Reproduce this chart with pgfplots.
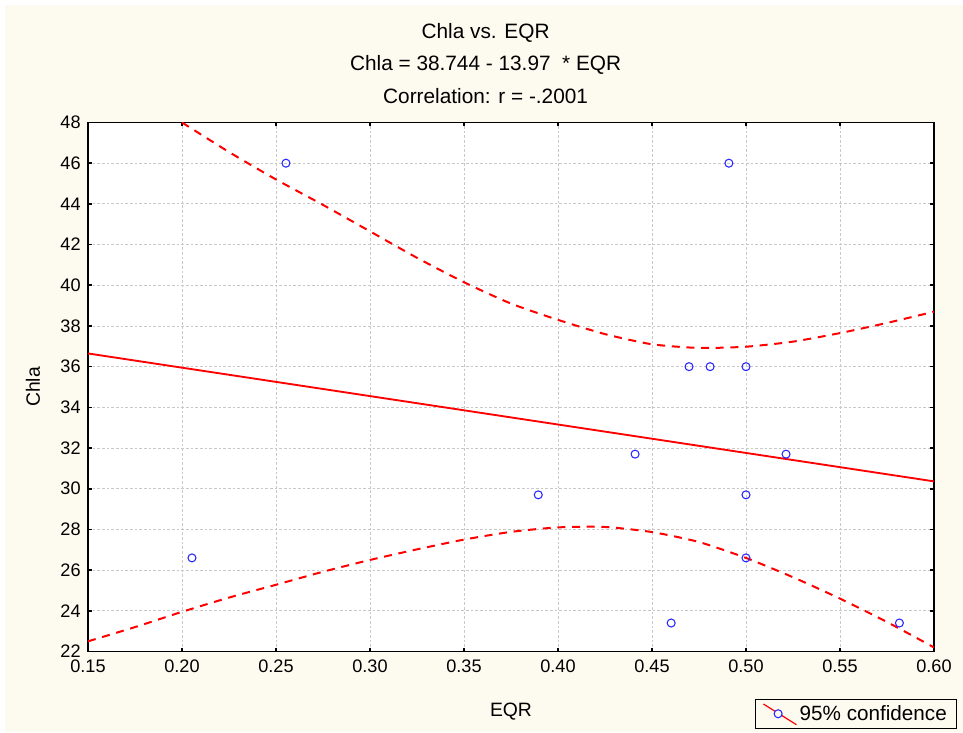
\documentclass[border=0pt]{standalone}
\usepackage{pgfplots}
\pgfplotsset{compat=1.18}
\usepackage{fontspec}
\setmainfont{Liberation Sans}
\definecolor{cream}{RGB}{253,250,240}
\definecolor{gridgray}{RGB}{200,200,200}
\definecolor{ptblue}{RGB}{40,40,255}
\definecolor{lnred}{RGB}{255,0,0}

\pgfplotstableread{
x y
0.2053 26.6
0.2553 46.0
0.3895 29.7
0.4410 31.7
0.4602 23.4
0.4697 36.0
0.4809 36.0
0.4909 46.0
0.5000 36.0
0.5000 29.7
0.5000 26.6
0.5213 31.7
0.5816 23.4
}\ptstable

\pgfplotstableread{
x y
0.200 48.0
0.225 46.55
0.250 45.2
0.275 43.95
0.300 42.65
0.325 41.35
0.350 40.15
0.375 39.1
0.400 38.3
0.425 37.6
0.450 37.1
0.475 36.92
0.500 36.98
0.525 37.23
0.550 37.65
0.575 38.15
0.600 38.7
}\upperband

\pgfplotstableread{
x y
0.150 22.5
0.175 23.2
0.200 23.95
0.225 24.65
0.250 25.28
0.275 25.92
0.300 26.5
0.325 27.02
0.350 27.5
0.375 27.88
0.400 28.1
0.425 28.12
0.450 27.87
0.475 27.38
0.500 26.6
0.525 25.65
0.550 24.6
0.575 23.45
0.600 22.2
}\lowerband

\pgfplotstableread{
x y
0.15 36.6486
0.60 30.362
}\fitline

\begin{document}
\begin{tikzpicture}
\fill[white] (-66pt,-60.375pt) rectangle (656.25pt,488.625pt);
\fill[cream] (-62.25pt,-60.375pt) rectangle (656.25pt,484.875pt);
\useasboundingbox (-66pt,-60.375pt) rectangle (656.25pt,488.625pt);
\begin{axis}[
  at={(0,0)}, anchor=south west,
  scale only axis,
  width=634.5pt, height=396.75pt,
  xmin=0.15, xmax=0.60, ymin=22, ymax=48,
  xtick={0.15,0.20,...,0.601},
  ytick={22,24,...,48},
  axis background/.style={fill=white},
  axis line style={black, line width=1.3pt},
  tick align=inside,
  tick pos=both,
  major tick length=3pt,
  every tick/.style={black, line width=1.2pt},
  grid=major,
  major grid style={gridgray, line width=0.6pt, dash pattern=on 2pt off 1.5pt},
  tick label style={font=\fontsize{13.6}{15}\selectfont},
  xticklabel style={/pgf/number format/fixed, /pgf/number format/fixed zerofill, /pgf/number format/precision=2, /pgf/number format/assume math mode=true, yshift=-3pt},
  yticklabel style={/pgf/number format/assume math mode=true, xshift=-2pt},
  xlabel={EQR}, ylabel={Chla},
  label style={font=\fontsize{14.5}{16}\selectfont},
  xlabel style={at={(axis description cs:0.5,-0.114)}, anchor=center},
  ylabel style={at={(axis description cs:-0.065,0.5)}, anchor=center},
  clip mode=individual,
  legend style={at={(axis description cs:0.7884,-0.0898)}, anchor=north west,
    fill=cream, draw=black, line width=0.8pt, font=\fontsize{15.5}{17}\selectfont,
    inner xsep=5.5pt, inner ysep=2.5pt},
  legend cell align=left,
]
\addplot[lnred, line width=1.4pt, forget plot] table[x=x,y=y] {\fitline};
\addplot[lnred, line width=1.5pt, dash pattern=on 6pt off 5pt, smooth, tension=0.4, forget plot] table[x=x,y=y] {\upperband};
\addplot[lnred, line width=1.5pt, dash pattern=on 6pt off 5pt, smooth, tension=0.4, forget plot] table[x=x,y=y] {\lowerband};
\addplot[only marks, mark=o, mark size=3pt, mark options={ptblue, line width=0.8pt}, forget plot] table[x=x,y=y] {\ptstable};
\addlegendimage{legend image code/.code={
  \draw[lnred, line width=0.9pt] (0pt,7.5pt) -- (24.75pt,-8pt);
  \draw[ptblue, line width=0.8pt, fill=cream] (11pt,0.2pt) circle (3pt);
}}
\addlegendentry{95\% confidence}
\node[font=\fontsize{15.6}{17}\selectfont] at (rel axis cs:0.470,1.169) {Chla vs. EQR};
\node[font=\fontsize{15.6}{17}\selectfont] at (rel axis cs:0.470,1.1087) {Chla = 38.744 - 13.97\ \ * EQR};
\node[font=\fontsize{15.6}{17}\selectfont] at (rel axis cs:0.470,1.050) {Correlation: r = -.2001};
\end{axis}
\end{tikzpicture}
\end{document}
